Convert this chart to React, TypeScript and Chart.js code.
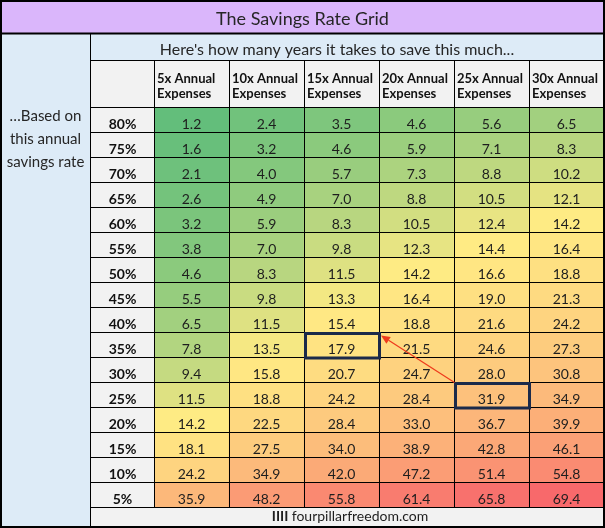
import React, { useEffect, useRef } from 'react';
import { Chart, registerables } from 'chart.js';

Chart.register(...registerables);

const TITLE = 'The Savings Rate Grid';
const SUBTITLE = "Here's how many years it takes to save this much...";
const SIDE_LABEL = ['…Based on', 'this annual', 'savings rate'];
const FOOTER_MARK = 'IIII';
const FOOTER_TEXT = 'fourpillarfreedom.com';

const COLUMNS = [
  ['5x Annual', 'Expenses'],
  ['10x Annual', 'Expenses'],
  ['15x Annual', 'Expenses'],
  ['20x Annual', 'Expenses'],
  ['25x Annual', 'Expenses'],
  ['30x Annual', 'Expenses'],
];

const RATES = ['80%', '75%', '70%', '65%', '60%', '55%', '50%', '45%', '40%', '35%', '30%', '25%', '20%', '15%', '10%', '5%'];

const YEARS_5X = [1.2, 1.6, 2.1, 2.6, 3.2, 3.8, 4.6, 5.5, 6.5, 7.8, 9.4, 11.5, 14.2, 18.1, 24.2, 35.9];
const YEARS_10X = [2.4, 3.2, 4.0, 4.9, 5.9, 7.0, 8.3, 9.8, 11.5, 13.5, 15.8, 18.8, 22.5, 27.5, 34.9, 48.2];
const YEARS_15X = [3.5, 4.6, 5.7, 7.0, 8.3, 9.8, 11.5, 13.3, 15.4, 17.9, 20.7, 24.2, 28.4, 34.0, 42.0, 55.8];
const YEARS_20X = [4.6, 5.9, 7.3, 8.8, 10.5, 12.3, 14.2, 16.4, 18.8, 21.5, 24.7, 28.4, 33.0, 38.9, 47.2, 61.4];
const YEARS_25X = [5.6, 7.1, 8.8, 10.5, 12.4, 14.4, 16.6, 19.0, 21.6, 24.6, 28.0, 31.9, 36.7, 42.8, 51.4, 65.8];
const YEARS_30X = [6.5, 8.3, 10.2, 12.1, 14.2, 16.4, 18.8, 21.3, 24.2, 27.3, 30.8, 34.9, 39.9, 46.1, 54.8, 69.4];

const GRID = [YEARS_5X, YEARS_10X, YEARS_15X, YEARS_20X, YEARS_25X, YEARS_30X];

// arrow goes from this cell to the other one
const ARROW_FROM = { rate: '25%', column: 4 };
const ARROW_TO = { rate: '35%', column: 2 };

const FONT = 'Lato, "Open Sans", sans-serif';

const LOW = [99, 190, 123];
const MID = [255, 235, 132];
const HIGH = [248, 105, 107];

function percentile50(vals: number[]) {
  const s = [...vals].sort((a, b) => a - b);
  const pos = 0.5 * (s.length - 1);
  const lo = Math.floor(pos);
  const hi = Math.ceil(pos);
  return s[lo] + (s[hi] - s[lo]) * (pos - lo);
}

const ALL = GRID.flat();
const VMIN = Math.min(...ALL);
const VMAX = Math.max(...ALL);
const VMID = percentile50(ALL);

function mix(a: number[], b: number[], t: number) {
  const c = a.map((v, i) => Math.round(v + (b[i] - v) * t));
  return `rgb(${c[0]},${c[1]},${c[2]})`;
}

function colorFor(v: number) {
  if (v <= VMID) return mix(LOW, MID, (v - VMIN) / (VMID - VMIN));
  return mix(MID, HIGH, (v - VMID) / (VMAX - VMID));
}

const W = 605;
const H = 528;
const SIDE_W = 91;
const TITLE_H = 33;
const SUB_H = 60;

const tablePlugin = {
  id: 'tablePlugin',
  beforeDraw(chart: any) {
    const { ctx } = chart;
    const xs = chart.scales.x;
    const ys = chart.scales.y;
    const gL = xs.left, gT = ys.top, gB = ys.bottom;
    ctx.save();
    ctx.fillStyle = '#ffffff';
    ctx.fillRect(0, 0, W, H);
    ctx.fillStyle = '#dab6fb';
    ctx.fillRect(0, 0, W, TITLE_H);
    ctx.fillStyle = '#ddebf7';
    ctx.fillRect(0, TITLE_H, SIDE_W, H - TITLE_H);
    ctx.fillRect(SIDE_W, TITLE_H, W - SIDE_W, SUB_H - TITLE_H);
    ctx.fillStyle = '#f2f2f2';
    ctx.fillRect(SIDE_W, SUB_H, W - SIDE_W, gT - SUB_H);
    ctx.fillRect(SIDE_W, gT, gL - SIDE_W, gB - gT);
    ctx.fillRect(SIDE_W, gB, W - SIDE_W, H - gB);
    ctx.restore();
  },
  afterDraw(chart: any) {
    const { ctx } = chart;
    const xs = chart.scales.x;
    const ys = chart.scales.y;
    const gL = xs.left, gR = xs.right, gT = ys.top, gB = ys.bottom;
    const colW = (gR - gL) / COLUMNS.length;
    const colLeft = (c: number) => xs.getPixelForValue(c) - colW / 2;
    const rowTop = (r: number) => ys.getPixelForValue(r);
    ctx.save();

    // lines
    ctx.strokeStyle = '#000000';
    ctx.lineWidth = 1;
    const hline = (y: number, x0: number, x1: number) => {
      ctx.beginPath();
      ctx.moveTo(x0, Math.round(y) + 0.5);
      ctx.lineTo(x1, Math.round(y) + 0.5);
      ctx.stroke();
    };
    const vline = (x: number, y0: number, y1: number) => {
      ctx.beginPath();
      ctx.moveTo(Math.round(x) + 0.5, y0);
      ctx.lineTo(Math.round(x) + 0.5, y1);
      ctx.stroke();
    };
    ctx.lineWidth = 2;
    ctx.beginPath();
    ctx.moveTo(0, TITLE_H + 0.5);
    ctx.lineTo(W, TITLE_H + 0.5);
    ctx.stroke();
    ctx.lineWidth = 1;
    vline(SIDE_W - 1, TITLE_H, H);
    hline(SUB_H, SIDE_W, W);
    for (let r = 0; r <= RATES.length; r++) hline(rowTop(r), SIDE_W, W);
    vline(gL, SUB_H, gB);
    for (let c = 1; c <= COLUMNS.length; c++) vline(colLeft(c), SUB_H, gB);
    ctx.lineWidth = 2;
    ctx.strokeRect(1, 1, W - 2, H - 2);

    // texts
    ctx.fillStyle = '#262626';
    ctx.textBaseline = 'alphabetic';
    ctx.textAlign = 'center';
    ctx.font = `18px ${FONT}`;
    ctx.fillText(TITLE, W / 2, 25);
    ctx.font = `16px ${FONT}`;
    ctx.fillText(SUBTITLE, 337, 55);
    ctx.font = `15px ${FONT}`;
    SIDE_LABEL.forEach((t, i) => ctx.fillText(t, SIDE_W / 2, 121 + i * 23));

    ctx.textAlign = 'left';
    ctx.font = `bold 13px ${FONT}`;
    ctx.fillStyle = '#111111';
    COLUMNS.forEach((lines, c) => {
      lines.forEach((t, i) => ctx.fillText(t, colLeft(c) + 3, gT - 24 + i * 15));
    });

    ctx.textAlign = 'center';
    RATES.forEach((rate, r) => {
      ctx.font = `bold 14px ${FONT}`;
      ctx.fillStyle = '#111111';
      ctx.fillText(rate, (SIDE_W + gL) / 2, rowTop(r + 1) - 3);
      ctx.font = `14px ${FONT}`;
      ctx.fillStyle = '#1e1e1e';
      GRID.forEach((col, c) => {
        ctx.fillText(col[r].toFixed(1), xs.getPixelForValue(c), rowTop(r + 1) - 3);
      });
    });

    // footer
    ctx.font = `bold 14px ${FONT}`;
    const markW = ctx.measureText(FOOTER_MARK + ' ').width;
    ctx.font = `14px ${FONT}`;
    const textW = ctx.measureText(FOOTER_TEXT).width;
    const fx = 350 - (markW + textW) / 2;
    ctx.textAlign = 'left';
    ctx.fillStyle = '#1e1e1e';
    ctx.font = `bold 14px ${FONT}`;
    ctx.fillText(FOOTER_MARK, fx, 521);
    ctx.font = `14px ${FONT}`;
    ctx.fillText(FOOTER_TEXT, fx + markW, 521);

    // highlight boxes
    const fr = RATES.indexOf(ARROW_FROM.rate);
    const tr = RATES.indexOf(ARROW_TO.rate);
    ctx.strokeStyle = '#1b2a4a';
    ctx.lineWidth = 3;
    [[fr, ARROW_FROM.column], [tr, ARROW_TO.column]].forEach(([r, c]) => {
      ctx.strokeRect(colLeft(c) + 1.5, rowTop(r) + 1.5, colW - 1, rowTop(r + 1) - rowTop(r) - 0.5);
    });

    // arrow
    const x0 = colLeft(ARROW_FROM.column) + 0.5;
    const y0 = rowTop(fr) + 0.5;
    const x1 = colLeft(ARROW_TO.column) + colW + 2;
    const y1 = rowTop(tr) + 3.5;
    ctx.strokeStyle = '#ee3a1c';
    ctx.fillStyle = '#ee3a1c';
    ctx.lineWidth = 1.2;
    const ang = Math.atan2(y1 - y0, x1 - x0);
    const hl = 9;
    const hw = 4;
    const bx = x1 - hl * Math.cos(ang);
    const by = y1 - hl * Math.sin(ang);
    ctx.beginPath();
    ctx.moveTo(x0, y0);
    ctx.lineTo(bx, by);
    ctx.stroke();
    ctx.beginPath();
    ctx.moveTo(x1, y1);
    ctx.lineTo(bx + hw * Math.sin(ang), by - hw * Math.cos(ang));
    ctx.lineTo(bx - hw * Math.sin(ang), by + hw * Math.cos(ang));
    ctx.closePath();
    ctx.fill();

    ctx.restore();
  },
};

export default function App() {
  const ref = useRef<HTMLCanvasElement | null>(null);
  useEffect(() => {
    if (!ref.current) return;
    const datasets = RATES.map((rate, r) => ({
      label: rate,
      data: COLUMNS.map(() => [r, r + 1]),
      backgroundColor: GRID.map((col) => colorFor(col[r])),
      borderWidth: 0,
      grouped: false,
      barPercentage: 1,
      categoryPercentage: 1,
    }));
    const chart = new Chart(ref.current, {
      type: 'bar',
      data: { labels: COLUMNS.map((c) => c.join(' ')), datasets: datasets as any },
      options: {
        responsive: false,
        animation: false,
        layout: { padding: { left: 154, top: 107, right: 1, bottom: 21 } },
        scales: {
          x: { type: 'category', display: false, offset: true },
          y: { type: 'linear', display: false, min: 0, max: RATES.length, reverse: true },
        },
        plugins: { legend: { display: false }, tooltip: { enabled: false } },
      },
      plugins: [tablePlugin],
    });
    return () => chart.destroy();
  }, []);
  return (
    <div style={{ position: 'fixed', left: 0, top: 0, width: W, height: H }}>
      <canvas ref={ref} width={W} height={H} style={{ width: W, height: H, display: 'block' }} />
    </div>
  );
}
